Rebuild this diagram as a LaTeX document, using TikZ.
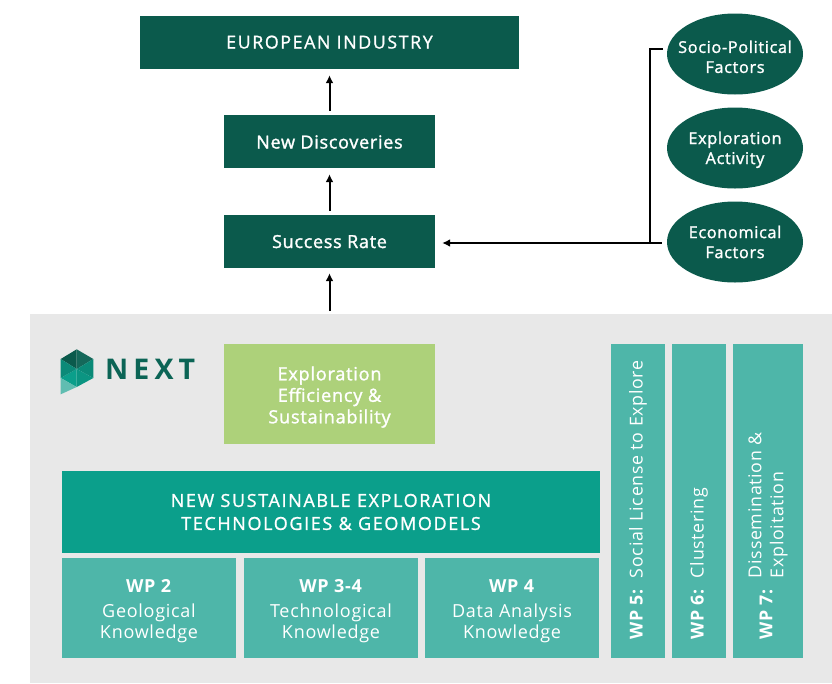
\documentclass[tikz,border=0pt]{standalone}
\usepackage{fontspec}
\setmainfont[LetterSpace=4]{Open Sans}
\newfontfamily\medfont[LetterSpace=4,FakeBold=1.5]{Open Sans}
\newfontfamily\capsfont[LetterSpace=9,FakeBold=1.2]{Open Sans}
\newfontfamily\logofont[LetterSpace=18]{Open Sans}
\usepackage{xcolor}
\usetikzlibrary{shapes.geometric}
\usetikzlibrary{arrows.meta}
\definecolor{dark green}{HTML}{0B5A4C}
\definecolor{mid green}{HTML}{0B9F8B}
\definecolor{light teal}{HTML}{4EB6A9}
\definecolor{leaf green}{HTML}{ADD17A}
\definecolor{panel grey}{HTML}{E8E8E8}
\tikzset{darkbox/.style={fill=dark green, text=white, minimum height=53pt, inner sep=0pt, text height=14pt, text depth=0pt, font=\medfont\fontsize{18}{21}\selectfont},
    wpbox/.style={fill=light teal, text=white, minimum width=174pt, minimum height=100pt, inner sep=0pt, align=center, font=\fontsize{18}{21.5}\selectfont},
    sidebox/.style={fill=light teal, minimum height=314pt, inner sep=0pt},
    sidetext/.style={text=white, rotate=90, anchor=west, align=left, inner sep=0pt, font=\fontsize{17.8}{22}\selectfont},
    factor/.style={ellipse, fill=dark green, text=white, minimum width=136pt, minimum height=81pt, inner xsep=-12pt, inner ysep=0pt, align=center, font=\medfont\fontsize{16.3}{20}\selectfont}, 
    arrow/.style={draw=black, line width=2pt, -{Latex[length=8pt,width=8pt]}}}
\begin{document}
\begin{tikzpicture}[x=1pt,y=-1pt]
    \useasboundingbox (0,0) rectangle (832,683);
    \fill[panel grey] (30,314) rectangle (832,683);
    % chain at the top
    \node[darkbox, minimum width=379pt, text height=12pt, font=\capsfont\fontsize{17.8}{21}\selectfont] (industry) at (329.5,42.5) {EUROPEAN INDUSTRY};
    \node[darkbox, minimum width=211pt] (discoveries) at (329.5,141.5) {New Discoveries};
    \node[darkbox, minimum width=211pt, text height=13pt] (success) at (329.5,241.5) {Success Rate};
    \coordinate (panel top) at (329.5,311);
    \draw[arrow] ([yshift=4pt]discoveries.north) -- ([yshift=-6pt]industry.south);
    \draw[arrow] ([yshift=4pt]success.north) -- ([yshift=-6pt]discoveries.south);
    \draw[arrow] (panel top) -- ([yshift=-5pt]success.south);
    % factors
    \node[factor] (socio) at (735,54) {\rule{0pt}{18pt}Socio-Political\\Factors};
    \node[factor] (activity) at (735,148) {\rule{0pt}{16pt}Exploration\\Activity};
    \node[factor] (economical) at (735,242) {Economical\\Factors};
    \coordinate (socio end) at (663,48.5);
    \coordinate (economical end) at (661.5,243);
    \coordinate (joint) at (649.5,243);
    \draw[line width=2pt] (socio end) -| (joint);
    \draw[arrow] (economical end) -- ([xshift=7pt]success.east |- economical end);
    % logo
    \fill[dark green] (60.7,359) -- (76.7,349.3) -- (76.7,369) -- cycle;
    \fill[dark green!85!light teal] (76.7,349.3) -- (93.3,359) -- (76.7,369) -- cycle;
    \fill[mid green!70!dark green] (93.3,359) -- (93.3,378) -- (76.7,369) -- cycle;
    \fill[mid green!85!dark green] (93.3,378) -- (76.7,387) -- (76.7,369) -- cycle;
    \fill[mid green] (76.7,369) -- (76.7,387) -- (60.7,378) -- cycle;
    \fill[mid green!70!dark green] (60.7,359) -- (76.7,369) -- (60.7,378) -- cycle;
    \fill[light teal!90!white] (60.7,378) -- (76.7,387) -- (60.7,394.3) -- cycle;
    \node[anchor=west, inner sep=0pt, text=dark green!85!mid green, font=\logofont\fontsize{28.5}{30}\selectfont\bfseries] (next) at (105,369.5) {NEXT};
    % work packages
    \node[fill=leaf green, text=white, minimum width=211pt, minimum height=100pt, inner sep=0pt, align=center, font=\medfont\fontsize{18.2}{21.5}\selectfont] (efficiency) at (329.5,394) {\rule{0pt}{20pt}Exploration\\Efficiency \&\\Sustainability};
    \node[fill=mid green, text=white, minimum width=538pt, minimum height=82pt, inner sep=0pt, align=center, font=\capsfont\fontsize{18}{23}\selectfont] (technologies) at (331,512) {NEW SUSTAINABLE EXPLORATION\\TECHNOLOGIES \& GEOMODELS};
    \node[wpbox] (wp2) at (149,608) {\rule{0pt}{19pt}\textbf{WP 2}\\[3.5pt]Geological\\Knowledge};
    \node[wpbox] (wp34) at (331,608) {\rule{0pt}{19pt}\textbf{WP 3-4}\\[3.5pt]Technological\\Knowledge};
    \node[wpbox] (wp4) at (512,608) {\rule{0pt}{19pt}\textbf{WP 4}\\[3.5pt]Data Analysis\\Knowledge};
    \node[sidebox, minimum width=54pt] (wp5) at (638,501) {};
    \node[sidebox, minimum width=54pt] (wp6) at (699,501) {};
    \node[sidebox, minimum width=70pt] (wp7) at (768,501) {};
    \node[sidetext] (wp5 text) at (638,640) {\textbf{WP 5:}\ \ Social License to Explore};
    \node[sidetext] (wp6 text) at (699,640) {\textbf{WP 6:}\ \ Clustering};
    \node[sidetext] (wp7 text) at (768,640) {\textbf{WP 7:}\ \ \begin{tabular}[c]{@{}l@{}}Dissemination \&\\Exploitation\end{tabular}};
\end{tikzpicture}
\end{document}
